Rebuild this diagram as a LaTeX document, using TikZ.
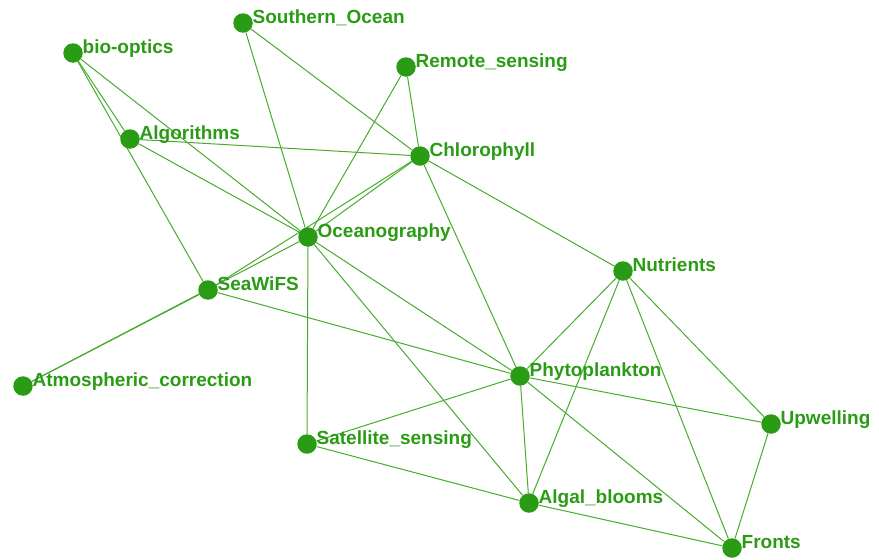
\documentclass[tikz,border=0pt]{standalone}
\usepackage{fontspec}
\setmainfont{Liberation Sans}
\usepackage{xcolor}
\usetikzlibrary{backgrounds}
\definecolor{nodegreen}{RGB}{42,155,20}
\definecolor{edgegreen}{RGB}{70,172,45}
\tikzset{
  topic/.style={circle, fill=nodegreen, draw=none, minimum size=19.5pt, inner sep=0pt},
  topiclabel/.style={anchor=base west, inner sep=0pt, xshift=-0.5pt, yshift=0pt,
                     text=nodegreen, font=\fontsize{19}{21}\selectfont\bfseries},
  link/.style={draw=edgegreen, line width=1pt},
}

\begin{document}
\begin{tikzpicture}[x=1pt, y=-1pt, label distance=0pt]
  \useasboundingbox (0,0) rectangle (879,560);

  %% Topics
  \node[topic, label={[topiclabel]0:bio-optics}]             (bio)     at (73,53)   {};
  \node[topic, label={[topiclabel]0:Southern\_Ocean}]        (south)   at (243,23)  {};
  \node[topic, label={[topiclabel]0:Remote\_sensing}]        (remote)  at (406,67)  {};
  \node[topic, label={[topiclabel]0:Algorithms}]             (algo)    at (130,139) {};
  \node[topic, label={[topiclabel]0:Chlorophyll}]            (chloro)  at (420,156) {};
  \node[topic, label={[topiclabel]0:Oceanography}]           (ocean)   at (308,237) {};
  \node[topic, label={[topiclabel]0:Nutrients}]              (nutri)   at (623,271) {};
  \node[topic, label={[topiclabel]0:SeaWiFS}]                (seawifs) at (208,290) {};
  \node[topic, label={[topiclabel]0:Atmospheric\_correction}] (atmos)  at (23,386)  {};
  \node[topic, label={[topiclabel]0:Phytoplankton}]          (phyto)   at (520,376) {};
  \node[topic, label={[topiclabel]0:Upwelling}]              (upwell)  at (771,424) {};
  \node[topic, label={[topiclabel]0:Satellite\_sensing}]     (satsens) at (307,444) {};
  \node[topic, label={[topiclabel]0:Algal\_blooms}]          (algal)   at (529,503) {};
  \node[topic, label={[topiclabel]0:Fronts}]                 (fronts)  at (732,548) {};

  %% Links
  \begin{scope}[on background layer]
    \draw[link] (bio) -- (algo);
    \draw[link] (bio) -- (seawifs);
    \draw[link] (bio) -- (ocean);
    \draw[link] (south) -- (ocean);
    \draw[link] (south) -- (chloro);
    \draw[link] (remote) -- (chloro);
    \draw[link] (remote) -- (ocean);
    \draw[link] (algo) -- (chloro);
    \draw[link] (algo) -- (ocean);
    \draw[link] (chloro) -- (ocean);
    \draw[link] (chloro) -- (seawifs);
    \draw[link] (chloro) -- (nutri);
    \draw[link] (chloro) -- (phyto);
    \draw[link] (atmos) -- (seawifs);
    \draw[link] (atmos) -- (ocean);
    \draw[link] (seawifs) -- (phyto);
    \draw[link] (ocean) -- (satsens);
    \draw[link] (ocean) -- (phyto);
    \draw[link] (ocean) -- (algal);
    \draw[link] (phyto) -- (nutri);
    \draw[link] (phyto) -- (upwell);
    \draw[link] (phyto) -- (algal);
    \draw[link] (phyto) -- (fronts);
    \draw[link] (phyto) -- (satsens);
    \draw[link] (nutri) -- (algal);
    \draw[link] (nutri) -- (fronts);
    \draw[link] (nutri) -- (upwell);
    \draw[link] (upwell) -- (fronts);
    \draw[link] (algal) -- (fronts);
    \draw[link] (satsens) -- (algal);
  \end{scope}

\end{tikzpicture}
\end{document}
